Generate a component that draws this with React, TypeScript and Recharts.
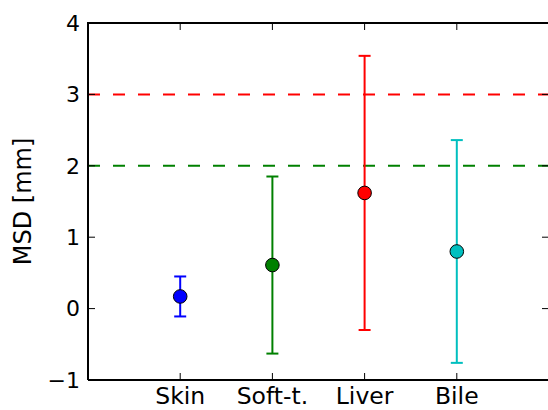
import { ScatterChart, Scatter, XAxis, YAxis, ErrorBar, ReferenceLine } from 'recharts';

const categories = ['Skin', 'Soft-t.', 'Liver', 'Bile'];
const positions = [1, 2, 3, 4];
const means = [0.17, 0.61, 1.62, 0.8];
const errors = [0.28, 1.24, 1.92, 1.56];
const colors = ['#0000ff', '#008000', '#ff0000', '#00bfbf'];
const yTicks = [-1, 0, 1, 2, 3, 4];
const xDomain = [0, 5];
const yDomain = [-1, 4];
const thresholds = [
  { value: 3, color: '#ff0000' },
  { value: 2, color: '#008000' },
];

const font = 'DejaVu Sans, sans-serif';
const TICK = 7;
const W = 600;
const H = 410;
const M = { top: 23, right: 51, bottom: 0, left: 0 };
const Y_AXIS_W = 88;
const X_AXIS_H = 30;
const PLOT_TOP = M.top;
const PLOT_LEFT = M.left + Y_AXIS_W;
const PLOT_RIGHT = W - M.right;
const PLOT_BOTTOM = H - M.bottom - X_AXIS_H;

const fmtY = (v: number) => (v < 0 ? `\u2212${Math.abs(v)}` : `${v}`);
const fmtX = (v: number) => categories[positions.indexOf(v)] ?? '';

// same linear mapping as the chart's plot box, used only for the frame overlay
const px = (v: number) => PLOT_LEFT + ((v - xDomain[0]) / (xDomain[1] - xDomain[0])) * (PLOT_RIGHT - PLOT_LEFT);
const py = (v: number) => PLOT_BOTTOM - ((v - yDomain[0]) / (yDomain[1] - yDomain[0])) * (PLOT_BOTTOM - PLOT_TOP);

// top/right spines with inward ticks, drawn above the chart
function Frame() {
  return (
    <svg
      width={W}
      height={H}
      style={{ position: 'absolute', left: 0, top: 0, zIndex: 10, pointerEvents: 'none', overflow: 'visible' }}
    >
      <line x1={PLOT_LEFT - 1} x2={PLOT_RIGHT + 1} y1={PLOT_TOP} y2={PLOT_TOP} stroke="#000" strokeWidth={2} />
      <line x1={PLOT_RIGHT} x2={PLOT_RIGHT} y1={PLOT_TOP} y2={PLOT_BOTTOM} stroke="#000" strokeWidth={2} />
      {positions.map((p) => (
        <line key={`t${p}`} x1={px(p)} x2={px(p)} y1={PLOT_TOP} y2={PLOT_TOP + TICK} stroke="#000" strokeWidth={1} />
      ))}
      {yTicks.map((v) => (
        <line key={`r${v}`} x1={PLOT_RIGHT - TICK} x2={PLOT_RIGHT} y1={py(v)} y2={py(v)} stroke="#000" strokeWidth={1} />
      ))}
    </svg>
  );
}

export default function App() {
  return (
    <div style={{ position: 'fixed', left: 0, top: 0, width: 548, height: 410, overflow: 'hidden', background: '#fff' }}>
      <ScatterChart width={W} height={H} margin={M}>
        <XAxis
          xAxisId="bottom"
          type="number"
          dataKey="x"
          domain={xDomain}
          ticks={positions}
          tickFormatter={fmtX}
          height={X_AXIS_H}
          tickSize={-TICK}
          tickMargin={14}
          axisLine={{ stroke: '#000', strokeWidth: 2 }}
          tickLine={{ stroke: '#000', strokeWidth: 1 }}
          tick={{ fill: '#000', fontSize: 23.5, fontFamily: font }}
          interval={0}
        />
        <YAxis
          yAxisId="left"
          type="number"
          dataKey="y"
          domain={yDomain}
          ticks={yTicks}
          tickFormatter={fmtY}
          width={Y_AXIS_W}
          tickSize={-TICK}
          tickMargin={15}
          interval={0}
          axisLine={{ stroke: '#000', strokeWidth: 2 }}
          tickLine={{ stroke: '#000', strokeWidth: 1 }}
          tick={{ fill: '#000', fontSize: 22, fontFamily: font }}
          label={(props: any) => {
            const vb = props.viewBox || { y: PLOT_TOP, height: PLOT_BOTTOM - PLOT_TOP };
            const cy = vb.y + vb.height / 2;
            return (
              <text
                x={23}
                y={cy}
                transform={`rotate(-90 23 ${cy})`}
                textAnchor="middle"
                dominantBaseline="central"
                fontSize={24}
                fontFamily={font}
                fill="#000"
              >
                MSD [mm]
              </text>
            );
          }}
        />
        {thresholds.map((t) => (
          <ReferenceLine
            key={t.value}
            yAxisId="left"
            xAxisId="bottom"
            y={t.value}
            stroke={t.color}
            strokeWidth={2}
            strokeDasharray="12 13"
          />
        ))}
        {categories.map((name, i) => (
          <Scatter
            key={name}
            name={name}
            xAxisId="bottom"
            yAxisId="left"
            data={[{ x: positions[i], y: means[i], err: errors[i] }]}
            dataKey="y"
            isAnimationActive={false}
            shape={(p: any) => (
              <circle cx={p.cx} cy={p.cy} r={6.8} fill={colors[i]} stroke="#000" strokeWidth={1} />
            )}
          >
            <ErrorBar dataKey="err" direction="y" width={6} stroke={colors[i]} strokeWidth={2} />
          </Scatter>
        ))}
      </ScatterChart>
      <Frame />
    </div>
  );
}
